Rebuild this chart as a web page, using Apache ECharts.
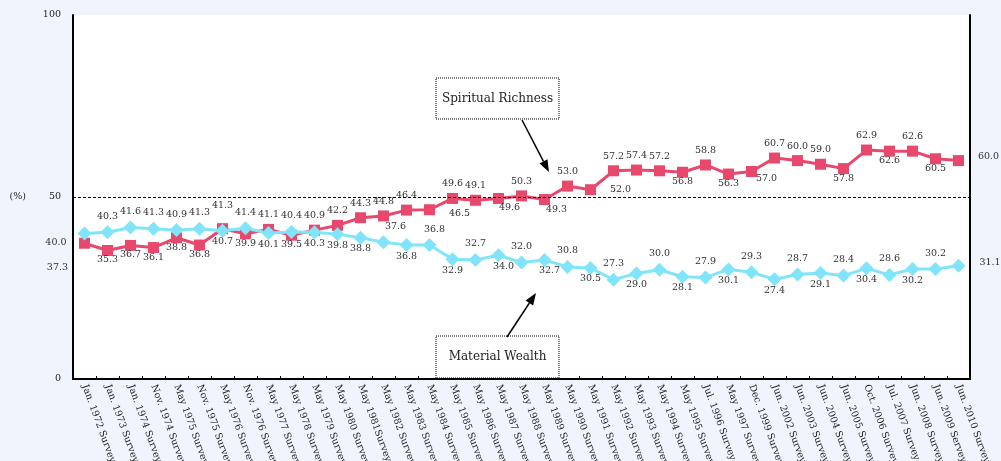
<!DOCTYPE html>
<html>
<head>
<meta charset="utf-8">
<script src="https://cdn.jsdelivr.net/npm/echarts@6/dist/echarts.min.js"></script>
<style>
html,body{margin:0;padding:0;background:#F0F4FC;}
#chart{width:1001px;height:461px;}
</style>
</head>
<body>
<div id="chart"></div>
<script>
// ---- data ----
const categories = [
  'Jan. 1972 Survey','Jan. 1973 Survey','Jan. 1974 Survey','Nov. 1974 Survey','May 1975 Survey',
  'Nov. 1975 Survey','May 1976 Survey','Nov. 1976 Survey','May 1977 Survey','May 1978 Survey',
  'May 1979 Survey','May 1980 Survey','May 1981Survey','May 1982 Survey','May 1983 Survey',
  'May 1984 Survey','May 1985 Survey','May 1986 Survey','May 1987 Survey','May 1988 Survey',
  'May 1989 Survey','May 1990 Survey','May 1991 Survey','May 1992 Survey','May 1993 Survey',
  'May 1994 Survey','May 1995 Survey','Jul. 1996 Survey','May 1997 Survey','Dec. 1999 Survey',
  'Jun. 2002 Survey','Jun. 2003 Survey','Jun. 2004 Survey','Jun. 2005 Survey','Oct. 2006 Survey',
  'Jul. 2007 Survey','Jun. 2008 Survey','Jun. 2009 Servey','Jun. 2010 Survey'
];
const spiritual = [37.3,35.3,36.7,36.1,38.8,36.8,41.3,39.9,41.1,39.5,40.9,42.2,44.3,44.8,46.4,46.5,49.6,49.1,49.6,50.3,49.3,53.0,52.0,57.2,57.4,57.2,56.8,58.8,56.3,57.0,60.7,60.0,59.0,57.8,62.9,62.6,62.6,60.5,60.0];
const material = [40.0,40.3,41.6,41.3,40.9,41.3,40.7,41.4,40.1,40.4,40.3,39.8,38.8,37.6,36.8,36.8,32.9,32.7,34.0,32.0,32.7,30.8,30.5,27.3,29.0,30.0,28.1,27.9,30.1,29.3,27.4,28.7,29.1,28.4,30.4,28.6,30.2,30.2,31.1];
const yTicks = [0, 50, 100];
const seriesNames = ['Spiritual Richness', 'Material Wealth'];

// ---- label placement (style, kept apart from data) ----
const T='top', B='bottom', L='left', R='right';
const spPos = [L,B,B,B,B,B,T,B,T,B,T,T,T,T,T,R,T,T,B,T,B,T,R,T,T,T,B,T,B,B,T,T,T,B,T,B,T,B,R];
const maPos = [L,T,T,T,T,T,B,T,B,T,B,B,B,T,B,T,B,T,B,T,B,T,B,T,B,T,B,T,B,T,B,T,B,T,B,T,B,T,R];
const spNudge = {0:[0,24],6:[0,-9],15:[0,4],18:[11,0],20:[12,0],29:[15,-2],38:[0,-4]};
const maNudge = {0:[0,9],13:[12,0],15:[5,0],18:[5,0],20:[5,0],38:[0,-3]};

function labelCfg(pos, nudge){
  let distance = pos===T ? 4 : pos===B ? -1 : pos===L ? 11 : 14;
  const c = {position: pos, distance: distance};
  if (nudge) c.offset = nudge;
  return c;
}
function buildData(vals, pos, nudge){
  return vals.map((v,i)=>({value:v, label: labelCfg(pos[i], nudge[i])}));
}

const RED = '#E8486C', CYAN = '#80E4FA';
const FONT = 'DejaVu Serif';

const chart = echarts.init(document.getElementById('chart'), null, {renderer:'canvas'});

function arrow(x1,y1,x2,y2){
  const Lh=12, W=4.5;
  const dx=x2-x1, dy=y2-y1, len=Math.hypot(dx,dy), ux=dx/len, uy=dy/len;
  const bx=x2-ux*Lh, by=y2-uy*Lh;
  return [
    {type:'line', z:100, shape:{x1:x1,y1:y1,x2:bx,y2:by}, style:{stroke:'#000', lineWidth:1.5}},
    {type:'polygon', z:100, shape:{points:[[x2,y2],[bx-uy*W,by+ux*W],[bx+uy*W,by-ux*W]]}, style:{fill:'#000'}}
  ];
}
function box(x,y,w,h,text){
  return [
    {type:'rect', z:100, shape:{x:x,y:y,width:w,height:h}, style:{fill:'#fff', stroke:'#000', lineWidth:1, lineDash:[1,1]}},
    {type:'text', z:101, style:{text:text, x:x+w/2, y:y+h/2, align:'center', verticalAlign:'middle', font:'12px "DejaVu Serif"', fill:'#222'}}
  ];
}

const labelStyle = {show:true, fontFamily:FONT, fontSize:9.5, color:'#333', formatter: p => p.value.toFixed(1)};

const option = {
  backgroundColor:'#F0F4FC',
  animation:false,
  textStyle:{fontFamily:FONT},
  grid:{left:73, right:31, top:15, bottom:82, show:true, backgroundColor:'#fff', borderWidth:0, outerBoundsMode:'none', containLabel:false},
  xAxis:[
    {type:'category', data:categories, boundaryGap:true,
     axisLine:{lineStyle:{color:'#000', width:2}},
     axisTick:{show:true, inside:true, length:3, lineStyle:{color:'#000', width:1}},
     axisLabel:{interval:0, rotate:-70, fontFamily:FONT, fontSize:9.5, color:'#222', margin:6, hideOverlap:false}},
    {type:'category', data:categories, position:'top', boundaryGap:true,
     axisLine:{show:true, lineStyle:{color:'#000', width:1, type:[2,2]}},
     axisTick:{show:false}, axisLabel:{show:false}}
  ],
  yAxis:[
    {type:'value', min:yTicks[0], max:yTicks[2], interval:yTicks[1]-yTicks[0],
     splitLine:{show:false},
     axisLine:{show:true, lineStyle:{color:'#000', width:2}},
     axisTick:{show:false},
     axisLabel:{fontFamily:FONT, fontSize:9.5, color:'#222', margin:12},
     name:'(%)', nameLocation:'middle', nameRotate:0, nameGap:47,
     nameTextStyle:{fontFamily:FONT, fontSize:9.5, color:'#222'}},
    {type:'value', position:'right', min:yTicks[0], max:yTicks[2], interval:yTicks[1]-yTicks[0],
     splitLine:{show:false},
     axisLine:{show:true, lineStyle:{color:'#000', width:2}},
     axisTick:{show:false}, axisLabel:{show:false}}
  ],
  series:[
    {name:seriesNames[0], type:'line', data:buildData(spiritual, spPos, spNudge),
     symbol:'rect', symbolSize:11, showAllSymbol:true,
     lineStyle:{color:RED, width:3}, itemStyle:{color:RED},
     label:labelStyle, emphasis:{disabled:true},
     markLine:{silent:true, symbol:'none', label:{show:false},
       lineStyle:{color:'#000', width:1, type:[3,2]},
       data:[{yAxis:yTicks[1]}]}},
    {name:seriesNames[1], type:'line', data:buildData(material, maPos, maNudge),
     symbol:'diamond', symbolSize:14, showAllSymbol:true,
     lineStyle:{color:CYAN, width:3}, itemStyle:{color:CYAN},
     label:labelStyle, emphasis:{disabled:true}}
  ],
  graphic:[].concat(
    box(436,78,123,41,'Spiritual Richness'),
    arrow(522,120,549,172),
    box(436,336,123,42,'Material Wealth'),
    arrow(507,337,536,293)
  )
};
chart.setOption(option);
</script>
</body>
</html>
